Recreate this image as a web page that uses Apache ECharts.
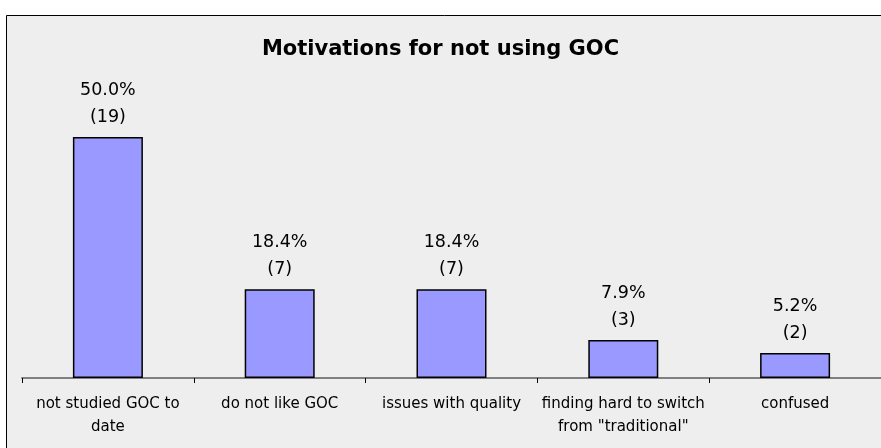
<!DOCTYPE html>
<html>
<head>
<meta charset="utf-8">
<script src="https://cdn.jsdelivr.net/npm/echarts@6/dist/echarts.min.js"></script>
<style>
html,body{margin:0;padding:0;background:#ffffff;}
#chart{width:881px;height:448px;}
</style>
</head>
<body>
<div id="chart"></div>
<script>
const categories = ['not studied GOC to\ndate', 'do not like GOC', 'issues with quality', 'finding hard to switch\nfrom "traditional"', 'confused'];
const percents = [50.0, 18.4, 18.4, 7.9, 5.2];
const counts = [19, 7, 7, 3, 2];
const titleText = 'Motivations for not using GOC';

const FONT = 'DejaVu Sans';
const chart = echarts.init(document.getElementById('chart'), null, {renderer: 'canvas'});
chart.setOption({
  backgroundColor: '#ffffff',
  animation: false,
  graphic: [{
    type: 'rect', z: -10, silent: true,
    shape: {x: 6.5, y: 15.5, width: 900, height: 500},
    style: {fill: '#EEEEEE', stroke: '#000000', lineWidth: 1}
  }],
  title: {
    text: titleText, left: 'center', top: 34,
    textStyle: {fontFamily: FONT, fontWeight: 'bold', fontSize: 21, color: '#000'}
  },
  grid: {left: 22, right: 0, top: 88.8, bottom: 70, containLabel: false},
  xAxis: {
    type: 'category', data: categories,
    axisLine: {lineStyle: {color: '#808080', width: 2}},
    axisTick: {show: true, length: 5, lineStyle: {color: '#000', width: 1}},
    axisLabel: {interval: 0, fontFamily: FONT, fontSize: 15, color: '#000', lineHeight: 23, margin: 15}
  },
  yAxis: {
    type: 'value', min: 0, max: 60, show: false,
    splitLine: {show: false}
  },
  series: [{
    type: 'bar', data: percents, barWidth: 70,
    itemStyle: {color: '#9999FF', borderColor: '#000', borderWidth: 1.5},
    label: {
      show: true, position: 'top', distance: 6,
      fontFamily: FONT, fontSize: 17.5, color: '#000', lineHeight: 27, align: 'center',
      formatter: p => percents[p.dataIndex].toFixed(1) + '%\n(' + counts[p.dataIndex] + ')'
    }
  }]
});
</script>
</body>
</html>
